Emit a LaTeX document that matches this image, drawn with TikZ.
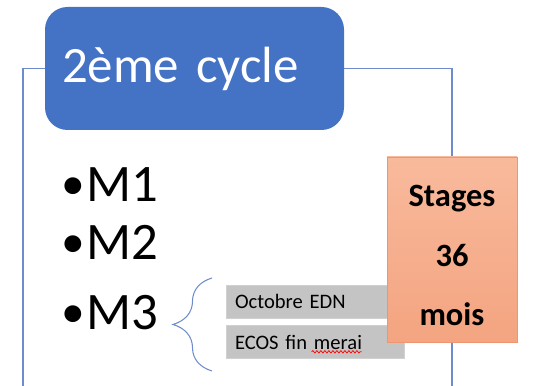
\documentclass[tikz,border=0pt]{standalone}
\usepackage{fontspec}
\setmainfont{Carlito}
\usetikzlibrary{positioning,decorations.pathreplacing,decorations.pathmorphing}
\definecolor{cyclecolor}{RGB}{68,114,196}
\definecolor{framecolor}{RGB}{110,140,205}
\definecolor{examcolor}{RGB}{196,196,196}
\definecolor{stagetop}{RGB}{248,186,156}
\definecolor{stagebottom}{RGB}{244,164,128}
\definecolor{stageborder}{RGB}{238,150,112}
\newcommand{\mdot}{\raisebox{0.04em}{\fontsize{27}{32}\selectfont •}\kern0.02em}

\begin{document}
\begin{tikzpicture}[
    cyclebox/.style={fill=cyclecolor, rounded corners=0.45cm, minimum height=2.46cm, text width=5.3cm, inner xsep=0.34cm, align=left, text=white, font=\fontsize{29}{35}\selectfont},
    mitem/.style={anchor=base west, inner sep=0pt, font=\fontsize{30}{36}\selectfont},
    exambox/.style={fill=examcolor, draw=black!18, minimum height=0.66cm, text width=3.2cm, inner xsep=0.18cm, align=left, font=\fontsize{11.7}{14}\selectfont},
    stagebox/.style={draw=stageborder, top color=stagetop, bottom color=stagebottom, minimum width=2.6cm, minimum height=3.7cm},
    stagetxt/.style={font=\bfseries\fontsize{18.5}{33.6}\selectfont, align=center, inner sep=0pt},
    frame/.style={draw=framecolor, line width=0.6pt},
    bracket/.style={draw=framecolor, line width=0.6pt, decorate, decoration={brace, amplitude=0.78cm}},
    spell/.style={draw=red, line width=0.4pt, decorate, decoration={snake, amplitude=0.025cm, segment length=0.08cm}}
]
    \useasboundingbox (0,0) rectangle (10.7,7.72);

    % Cycle header and frame
    \node[cyclebox] (cycle) at (3.89,6.35) {2ème cycle};
    \coordinate (frameBL) at (0.46,0);
    \coordinate (frameBR) at (9.04,0);
    \draw[frame] (cycle.west) -| (frameBL);
    \draw[frame] (cycle.east) -| (frameBR);

    % Years
    \node[mitem] (m1) at (1.22,3.68) {\mdot M1};
    \node[mitem] (m2) at (1.22,2.52) {\mdot M2};
    \node[mitem] (m3) at (1.22,1.12) {\mdot M3};

    % M3 details
    \coordinate (braceBot) at (4.24,0.30);
    \coordinate (braceTop) at (4.24,2.16);
    \draw[bracket] (braceBot) -- (braceTop);
    \node[exambox] (edn) at (6.3,1.69) {Octobre EDN};
    \node[exambox] (ecos) at (6.3,0.88) {ECOS fin merai};
    \draw[spell] ([xshift=1.72cm,yshift=0.14cm]ecos.south west) -- ([xshift=2.72cm,yshift=0.14cm]ecos.south west);

    % Stages
    \node[stagebox] (stages) at (9.04,2.73) {};
    \node[stagetxt] (stagestxt) at ([yshift=-0.12cm]stages.center) {Stages\\36\\mois};
\end{tikzpicture}
\end{document}
